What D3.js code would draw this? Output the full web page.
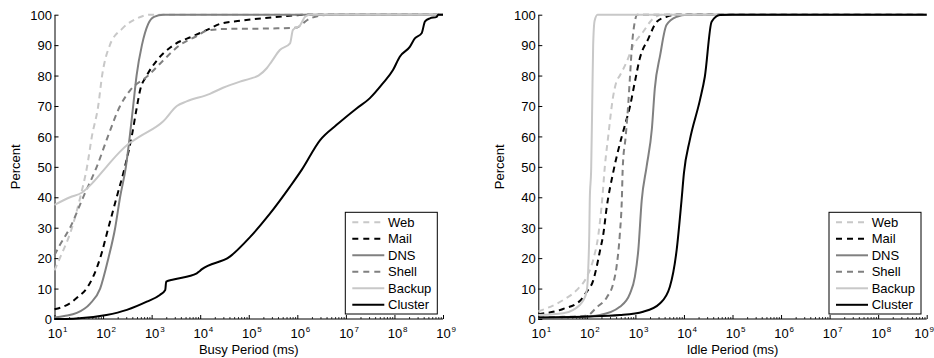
<!DOCTYPE html>
<html><head><meta charset="utf-8">
<script src="https://cdn.jsdelivr.net/npm/d3@7"></script>
<style>
html,body{margin:0;padding:0;background:#fff;}
svg text{font-family:"Liberation Sans",Arial,Helvetica,sans-serif;fill:#000;}
</style></head>
<body>
<svg id="chart" width="934" height="358"></svg>
<script>
// ---- data: points are [log10(ms), percent] ----
const seriesNames = ["Web","Mail","DNS","Shell","Backup","Cluster"];
const seriesColors = ["#c8c8c8","#000000","#808080","#808080","#c8c8c8","#000000"];
const seriesDashed = [true,true,false,true,false,false];

const busyWeb = [[1.0,16],[1.11,20],[1.36,30],[1.53,40],[1.67,50],[1.77,60],[1.9,70],[1.98,80],[2.14,90],[2.4,95.5],[2.7,98.8],[2.97,100],[9,100]];
const busyMail = [[1.0,3.2],[1.3,5],[1.5,7.5],[1.66,10],[1.94,20],[2.11,30],[2.28,40],[2.45,50],[2.59,60],[2.7,70],[2.76,75],[2.9,80],[3.11,85],[3.45,90],[3.86,93],[4.14,95],[4.41,97],[4.82,98],[5.62,99.3],[6.2,100],[9,100]];
const busyDNS = [[1.0,0.5],[1.2,1],[1.46,2],[1.73,5],[1.94,10],[2.11,20],[2.25,30],[2.35,40],[2.47,50],[2.55,60],[2.62,70],[2.69,80],[2.8,90],[2.93,97],[3.05,99.3],[3.24,100],[9,100]];
const busyShell = [[1.0,21],[1.1,24],[1.32,30],[1.59,40],[1.87,50],[2.1,60],[2.35,70],[2.55,75],[2.93,80],[3.24,85],[3.58,90],[3.93,93],[4.14,94.8],[4.5,95.3],[5.5,95.5],[6.0,95.8],[6.1,97],[6.3,99],[6.7,100],[9,100]];
const busyBackup = [[1.0,37.5],[1.32,40],[1.56,41.5],[1.8,45],[2.07,50],[2.35,55],[2.52,57.5],[2.76,60],[3.24,65],[3.52,70],[3.72,71.5],[4.2,74],[4.47,76],[4.82,78],[5.03,79],[5.2,80],[5.37,82.4],[5.47,84.6],[5.64,88.4],[5.85,90.6],[5.91,95],[6.06,96.6],[6.16,99.3],[6.26,100],[9,100]];
const busyCluster = [[1.0,0],[1.39,0.1],[2.07,1.3],[2.49,3],[2.9,5.7],[3.17,7.9],[3.28,9.5],[3.3,12.3],[3.45,13],[3.93,15],[3.97,15.5],[4.03,16.3],[4.61,20.5],[5.03,27],[5.44,34.7],[5.85,43.5],[6.09,49],[6.47,58.8],[6.81,63.8],[7.22,69.2],[7.49,72.5],[7.76,77.4],[7.97,81.8],[8.11,86.2],[8.32,89.5],[8.42,92.2],[8.56,93.9],[8.63,97.8],[8.73,98.8],[8.87,99.3],[8.9,100],[9,100]];

const idleWeb = [[1.0,2.5],[1.51,6.2],[1.79,9.5],[2.0,13.9],[2.13,19.4],[2.24,28],[2.32,40],[2.37,50],[2.44,60],[2.54,73],[2.61,78],[2.68,80],[2.82,84.5],[2.96,90],[3.16,94.4],[3.37,98.8],[3.57,100],[9,100]];
const idleMail = [[1.0,1.6],[1.51,3.3],[1.86,6],[2.0,9],[2.13,12.6],[2.2,17],[2.27,22.4],[2.34,28],[2.41,36.8],[2.54,48],[2.72,60],[2.79,64],[2.89,70],[2.99,78],[3.09,85.6],[3.27,92.2],[3.44,97.7],[3.64,99.3],[3.85,100],[9,100]];
const idleDNS = [[1.0,0.3],[1.8,0.6],[2.27,1.3],[2.68,4],[2.89,8.4],[2.99,13.9],[3.06,22.7],[3.13,39],[3.23,50],[3.34,62.6],[3.4,75.8],[3.51,86.7],[3.64,96.6],[3.85,99.3],[4.06,100],[9,100]];
const idleShell = [[1.0,0.5],[1.5,0.7],[2.0,1.1],[2.2,3.8],[2.41,7.1],[2.54,11.5],[2.61,17],[2.68,28],[2.72,39],[2.74,50],[2.8,60],[2.85,70],[2.89,80],[2.93,90],[2.98,97],[3.04,100],[9,100]];
const idleBackup = [[1.0,1.3],[1.51,1.9],[1.72,3],[1.93,6.2],[2.0,9.5],[2.03,17],[2.05,28],[2.06,39],[2.09,50],[2.11,70],[2.13,90],[2.16,98],[2.22,100],[9,100]];
const idleCluster = [[1.0,0.5],[2.0,0.8],[2.68,1.3],[3.16,2.4],[3.51,5.2],[3.71,10.6],[3.85,22.7],[3.95,39],[4.0,48],[4.12,58.8],[4.33,72],[4.43,79.6],[4.57,97.7],[4.74,99.9],[5.0,100],[9,100]];

const xMajorExponents = [1,2,3,4,5,6,7,8,9];
const yTicks = [0,10,20,30,40,50,60,70,80,90,100];
const yLabel = "Percent";
const panels = [
  {xLabel:"Busy Period (ms)", series:[busyWeb,busyMail,busyDNS,busyShell,busyBackup,busyCluster], x0:54.5, x1:443},
  {xLabel:"Idle Period (ms)", series:[idleWeb,idleMail,idleDNS,idleShell,idleBackup,idleCluster], x0:538.3, x1:926.7}
];

const W = 934;
const svg = d3.select("#chart");
const yTop = 14.7, yBot = 319;
const FS = 13;

panels.forEach(p => {
  const x = d3.scaleLog().domain([10, 1e9]).range([p.x0, p.x1]);
  const y = d3.scaleLinear().domain([0,100]).range([yBot, yTop]);
  const g = svg.append("g");

  // minor ticks
  const minors = [];
  for (let e=1;e<9;e++) for (let m=2;m<=9;m++) minors.push(m*Math.pow(10,e));
  g.append("g").attr("transform",`translate(0,${yBot})`)
    .call(d3.axisBottom(x).tickValues(minors).tickSizeInner(-2).tickSizeOuter(0).tickFormat(""))
    .call(s=>s.select(".domain").remove())
    .call(s=>s.selectAll("line").attr("stroke","#000").attr("stroke-width",0.8));

  // x axis major
  const majors = xMajorExponents.map(e=>Math.pow(10,e));
  const xa = g.append("g").attr("transform",`translate(0,${yBot})`)
    .call(d3.axisBottom(x).tickValues(majors).tickSizeInner(-4).tickSizeOuter(0).tickFormat(""));
  xa.select(".domain").attr("stroke","#000").attr("d",`M${p.x0},0H${p.x1}`);
  xa.selectAll("line").attr("stroke","#000");
  xa.selectAll(".tick").each(function(d,i){
    const t = d3.select(this);
    const tx = x(d);
    const overflow = Math.max(0, tx + 8 + 5 - W);
    t.append("text").attr("x",-overflow).attr("y",19.3).attr("text-anchor","middle")
      .style("font-size",FS+"px").text("10");
    t.append("text").attr("x",8-overflow).attr("y",13.2).attr("text-anchor","start")
      .style("font-size","8px").text(String(xMajorExponents[i]));
  });

  // y axis
  const ya = g.append("g").attr("transform",`translate(${p.x0},0)`)
    .call(d3.axisLeft(y).tickValues(yTicks).tickSizeInner(-4).tickSizeOuter(0).tickPadding(2.5));
  ya.select(".domain").attr("stroke","#000");
  ya.selectAll("line").attr("stroke","#000");
  ya.selectAll("text").style("font-size",FS+"px").attr("fill","#000")
    .attr("x",-2.5).attr("dy","0.36em").style("font-family",'"Liberation Sans",Arial,sans-serif');

  // labels
  svg.append("text").attr("transform",`translate(${p.x0-34.3},${(yTop+yBot)/2}) rotate(-90)`)
    .attr("text-anchor","middle").style("font-size",FS+"px").text(yLabel);
  svg.append("text").attr("x",(p.x0+p.x1)/2).attr("y",353.5)
    .attr("text-anchor","middle").style("font-size",FS+"px").text(p.xLabel);

  // lines
  const line = d3.line().x(d=>x(Math.pow(10,d[0]))).y(d=>y(d[1])).curve(d3.curveMonotoneX);
  p.series.forEach((s,i)=>{
    g.append("path").datum(s).attr("d",line).attr("fill","none")
      .attr("stroke",seriesColors[i]).attr("stroke-width",2)
      .attr("stroke-dasharray",seriesDashed[i]?"6,4.5":null);
  });

  // legend
  const lx = p.x1 - 5.7 - 92, ly = yBot - 5 - 101.7;
  const lg = svg.append("g").attr("transform",`translate(${lx},${ly})`);
  lg.append("rect").attr("x",0).attr("y",0).attr("width",92).attr("height",101.7)
    .attr("fill","#fff").attr("stroke","#000").attr("stroke-width",1);
  seriesNames.forEach((n,i)=>{
    const yy = 10 + i*16.5;
    lg.append("line").attr("x1",7).attr("x2",39).attr("y1",yy).attr("y2",yy)
      .attr("stroke",seriesColors[i]).attr("stroke-width",2)
      .attr("stroke-dasharray",seriesDashed[i]?"6,5":null);
    lg.append("text").attr("x",42.7).attr("y",yy).attr("dy","0.36em")
      .style("font-size",FS+"px").text(n);
  });
});
</script>
</body></html>
